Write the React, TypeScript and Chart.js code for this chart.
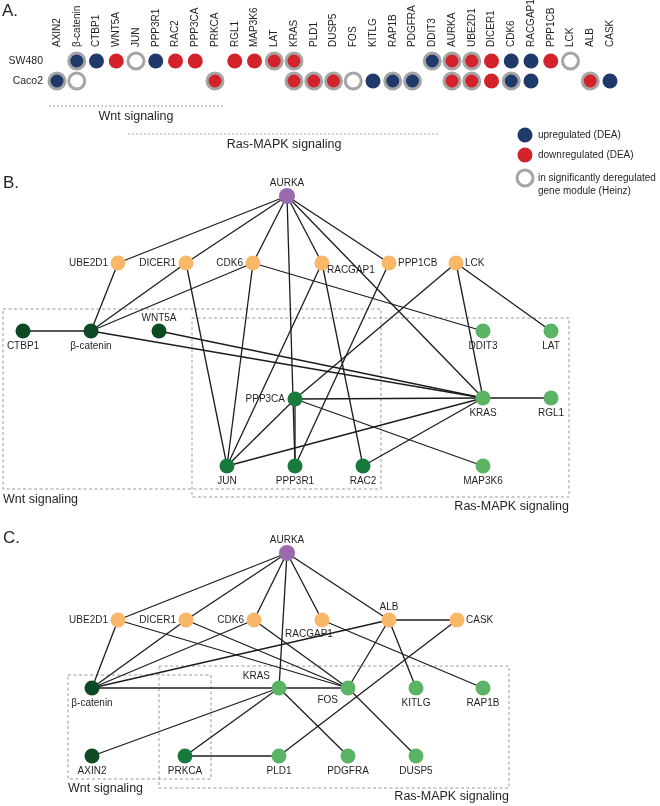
import React, { useEffect, useRef } from "react";
import { Chart, registerables } from "chart.js";
Chart.register(...registerables);

const FONT = '"Liberation Sans", Arial, Helvetica, sans-serif';
const TXT = "#231f20";

// ---------- Panel A data ----------
const genes = ["AXIN2", "β-catenin", "CTBP1", "WNT5A", "JUN", "PPP3R1", "RAC2", "PPP3CA", "PRKCA", "RGL1", "MAP3K6", "LAT", "KRAS", "PLD1", "DUSP5", "FOS", "KITLG", "RAP1B", "PDGFRA", "DDIT3", "AURKA", "UBE2D1", "DICER1", "CDK6", "RACGAP1", "PPP1CB", "LCK", "ALB", "CASK"];
const cellLines = ["SW480", "Caco2"];
const sw480Dea = ["", "up", "up", "down", "", "up", "down", "down", "", "down", "down", "down", "down", "", "", "", "", "", "", "up", "down", "down", "down", "up", "up", "down", "", "", ""];
const sw480Module = [0, 1, 0, 0, 1, 0, 0, 0, 0, 0, 0, 1, 1, 0, 0, 0, 0, 0, 0, 1, 1, 1, 0, 0, 0, 0, 1, 0, 0];
const caco2Dea = ["up", "", "", "", "", "", "", "", "down", "", "", "", "down", "down", "down", "", "up", "up", "up", "", "down", "down", "down", "up", "up", "", "", "down", "up"];
const caco2Module = [1, 1, 0, 0, 0, 0, 0, 0, 1, 0, 0, 0, 1, 1, 1, 1, 0, 1, 1, 0, 1, 1, 0, 1, 0, 0, 0, 1, 0];
const pathwayNames = ["Wnt signaling", "Ras-MAPK signaling"];
const pathwayFirst = ["AXIN2", "JUN"];
const pathwayLast = ["PRKCA", "DDIT3"];
const legendLabels = ["upregulated (DEA)", "downregulated (DEA)", "in significantly deregulated|gene module (Heinz)"];
const legendKinds = ["up", "down", "module"];

// ---------- Panel B network ----------
const bNodes = ["AURKA", "UBE2D1", "DICER1", "CDK6", "RACGAP1", "PPP1CB", "LCK", "CTBP1", "β-catenin", "WNT5A", "DDIT3", "LAT", "PPP3CA", "KRAS", "RGL1", "JUN", "PPP3R1", "RAC2", "MAP3K6"];
const bX = [287, 118, 186, 253, 322, 389, 456, 23, 91, 159, 483, 551, 295, 483, 551, 227, 295, 363, 483];
const bY = [196, 263, 263, 263, 263, 263, 263, 331, 331, 331, 331, 331, 399, 398, 398, 466, 466, 466, 466];
const bGroup = ["hub", "mod", "mod", "mod", "mod", "mod", "mod", "wnt", "wnt", "wnt", "ras", "ras", "both", "ras", "ras", "both", "both", "both", "ras"];
const bLabelPos = ["a", "l", "l", "l", "rb", "r", "r", "b", "b", "a", "b", "b", "l", "b", "b", "b", "b", "b", "b"];
const bEdges: [string, string][] = [
  ["AURKA", "UBE2D1"], ["AURKA", "DICER1"], ["AURKA", "CDK6"], ["AURKA", "RACGAP1"], ["AURKA", "PPP1CB"], ["AURKA", "PPP3R1"], ["AURKA", "KRAS"],
  ["UBE2D1", "β-catenin"], ["DICER1", "β-catenin"], ["CDK6", "β-catenin"], ["DICER1", "JUN"], ["CDK6", "JUN"], ["CDK6", "DDIT3"],
  ["RACGAP1", "JUN"], ["RACGAP1", "RAC2"], ["PPP1CB", "PPP3R1"], ["LCK", "PPP3CA"], ["LCK", "KRAS"], ["LCK", "LAT"],
  ["CTBP1", "β-catenin"], ["β-catenin", "KRAS"], ["WNT5A", "KRAS"], ["PPP3CA", "KRAS"], ["PPP3CA", "PPP3R1"], ["PPP3CA", "MAP3K6"],
  ["PPP3CA", "JUN"], ["JUN", "KRAS"], ["RAC2", "KRAS"], ["KRAS", "RGL1"],
];
const bBoxes = [[3, 309, 381, 489], [192, 318, 569, 497]];

// ---------- Panel C network ----------
const cNodes = ["AURKA", "UBE2D1", "DICER1", "CDK6", "RACGAP1", "ALB", "CASK", "β-catenin", "KRAS", "FOS", "KITLG", "RAP1B", "AXIN2", "PRKCA", "PLD1", "PDGFRA", "DUSP5"];
const cX = [287, 118, 186, 254, 322, 389, 457, 92, 279, 348, 416, 483, 92, 185, 279, 348, 416];
const cY = [553, 620, 620, 620, 620, 620, 620, 688, 688, 688, 688, 688, 756, 756, 756, 756, 756];
const cGroup = ["hub", "mod", "mod", "mod", "mod", "mod", "mod", "wnt", "ras", "ras", "ras", "ras", "wnt", "both", "ras", "ras", "ras"];
const cLabelPos = ["a", "l", "l", "l", "bl", "a", "r", "b", "al", "bl2", "b", "b", "b", "b", "b", "b", "b"];
const cEdges: [string, string][] = [
  ["AURKA", "UBE2D1"], ["AURKA", "DICER1"], ["AURKA", "CDK6"], ["AURKA", "RACGAP1"], ["AURKA", "ALB"], ["AURKA", "KRAS"],
  ["UBE2D1", "β-catenin"], ["DICER1", "β-catenin"], ["CDK6", "β-catenin"], ["ALB", "β-catenin"],
  ["UBE2D1", "FOS"], ["DICER1", "FOS"], ["CDK6", "FOS"], ["RACGAP1", "RAP1B"],
  ["ALB", "CASK"], ["ALB", "FOS"], ["ALB", "KITLG"], ["CASK", "PLD1"],
  ["β-catenin", "KRAS"], ["KRAS", "FOS"], ["KRAS", "AXIN2"], ["KRAS", "PRKCA"], ["KRAS", "PDGFRA"],
  ["FOS", "DUSP5"], ["PRKCA", "PLD1"],
];
const cBoxes = [[68, 675, 211, 779], [159, 666, 509, 788]];

// ---------- styles ----------
const GROUP_COLORS: Record<string, string> = {
  hub: "#9b6aae",
  mod: "#f9b867",
  wnt: "#0c4a24",
  both: "#187b3b",
  ras: "#5bb366",
};
const DEA_COLORS: Record<string, string> = { up: "#1f396b", down: "#d3222a", "": "#ffffff" };
const RING = "#a5a5a5";
const LABEL_OFF: Record<string, [number, number, CanvasTextAlign]> = {
  a: [0, -13, "center"],
  b: [0, 15, "center"],
  l: [-10, 0, "right"],
  r: [9, 0, "left"],
  rb: [5, 7, "left"],
  bl: [-13, 14, "center"],
  al: [-9, -12, "right"],
  bl2: [-10, 12, "right"],
};

const COL_PX = 19.75;
const COL0_PX = 57;
const ROW_PX = 20;
const ROW0_PX = 61;

export default function App() {
  const ref = useRef<HTMLCanvasElement>(null);

  useEffect(() => {
    document.body.style.margin = "0";
    const canvas = ref.current!;
    const datasets: any[] = [];

    // network edges + nodes
    const addNetwork = (names: string[], xs: number[], ys: number[], groups: string[], edges: [string, string][]) => {
      edges.forEach(([a, b]) => {
        const i = names.indexOf(a);
        const j = names.indexOf(b);
        datasets.push({
          data: [{ x: xs[i], y: ys[i] }, { x: xs[j], y: ys[j] }],
          showLine: true,
          borderColor: "#1c1c1c",
          borderWidth: 1.3,
          pointRadius: 0,
          xAxisID: "x",
          yAxisID: "y",
          order: 3,
          clip: false,
        });
      });
      datasets.push({
        data: names.map((_, i) => ({ x: xs[i], y: ys[i] })),
        pointRadius: groups.map((g) => (g === "hub" ? 8 : 7.5)),
        pointBackgroundColor: groups.map((g) => GROUP_COLORS[g]),
        pointBorderWidth: 0,
        pointBorderColor: "rgba(0,0,0,0)",
        xAxisID: "x",
        yAxisID: "y",
        order: 0,
        clip: false,
      });
    };
    addNetwork(bNodes, bX, bY, bGroup, bEdges);
    addNetwork(cNodes, cX, cY, cGroup, cEdges);

    // dashed pathway boxes
    [...bBoxes, ...cBoxes].forEach(([x0, y0, x1, y1]) => {
      datasets.push({
        data: [{ x: x0, y: y0 }, { x: x1, y: y0 }, { x: x1, y: y1 }, { x: x0, y: y1 }, { x: x0, y: y0 }],
        showLine: true,
        borderColor: "#9a9a9a",
        borderWidth: 1,
        borderDash: [3, 2.5],
        pointRadius: 0,
        xAxisID: "x",
        yAxisID: "y",
        order: 4,
        clip: false,
      });
    });

    // Panel A matrix
    const rows = [
      { dea: sw480Dea, mod: sw480Module },
      { dea: caco2Dea, mod: caco2Module },
    ];
    const aPts: any[] = [];
    const aBg: string[] = [];
    const aBorder: string[] = [];
    const aBw: number[] = [];
    const aR: number[] = [];
    rows.forEach((row, r) => {
      genes.forEach((_, i) => {
        const d = row.dea[i];
        const m = row.mod[i];
        if (!d && !m) return;
        aPts.push({ x: i, y: r });
        aBg.push(DEA_COLORS[d]);
        aBorder.push(m ? RING : "rgba(0,0,0,0)");
        aBw.push(m ? 3 : 0);
        aR.push(m ? 8 : 7.5);
      });
    });
    datasets.push({
      data: aPts,
      pointRadius: aR,
      pointBackgroundColor: aBg,
      pointBorderColor: aBorder,
      pointBorderWidth: aBw,
      xAxisID: "xa",
      yAxisID: "ya",
      order: 0,
      clip: false,
    });

    // pathway spans in A (x in gene index, y in px scale)
    const spanY = [106, 134];
    pathwayNames.forEach((_, k) => {
      const a = genes.indexOf(pathwayFirst[k]);
      const b = genes.indexOf(pathwayLast[k]);
      datasets.push({
        data: [{ x: a - 0.4, y: spanY[k] }, { x: b + 0.4, y: spanY[k] }],
        showLine: true,
        borderColor: "#9a9a9a",
        borderWidth: 1,
        borderDash: [2, 2],
        pointRadius: 0,
        xAxisID: "xa",
        yAxisID: "y",
        order: 4,
        clip: false,
      });
    });

    // legend markers
    const legY = [135, 155, 178];
    datasets.push({
      data: legendKinds.map((_, i) => ({ x: 525, y: legY[i] })),
      pointRadius: legendKinds.map((k) => (k === "module" ? 8 : 7.5)),
      pointBackgroundColor: legendKinds.map((k) => (k === "module" ? "#ffffff" : DEA_COLORS[k])),
      pointBorderColor: legendKinds.map((k) => (k === "module" ? RING : "rgba(0,0,0,0)")),
      pointBorderWidth: legendKinds.map((k) => (k === "module" ? 3 : 0)),
      xAxisID: "x",
      yAxisID: "y",
      order: 0,
      clip: false,
    });

    const textPlugin = {
      id: "texts",
      afterDatasetsDraw(chart: any) {
        const ctx: CanvasRenderingContext2D = chart.ctx;
        const sx = chart.scales.x;
        const sy = chart.scales.y;
        const xa = chart.scales.xa;
        const ya = chart.scales.ya;
        const put = (s: string, x: number, y: number, size: number, align: CanvasTextAlign = "left") => {
          ctx.font = `${size}px ${FONT}`;
          ctx.textAlign = align;
          ctx.textBaseline = "middle";
          ctx.fillStyle = TXT;
          ctx.fillText(s, x, y);
        };
        ctx.save();
        // panel letters
        put("A.", 2, 11, 17);
        put("B.", 3, 183, 17);
        put("C.", 3, 538, 17);

        // gene labels rotated
        genes.forEach((g, i) => {
          ctx.save();
          ctx.translate(xa.getPixelForValue(i), 47);
          ctx.rotate(-Math.PI / 2);
          put(g, 0, 0, 10, "left");
          ctx.restore();
        });
        cellLines.forEach((c, r) => put(c, 43, ya.getPixelForValue(r), 10.5, "right"));

        // pathway labels in A
        const aTextY = [117, 145];
        pathwayNames.forEach((p, k) => {
          const a = genes.indexOf(pathwayFirst[k]);
          const b = genes.indexOf(pathwayLast[k]);
          put(p, xa.getPixelForValue((a + b) / 2), aTextY[k], 12.5, "center");
        });

        // legend text
        legendLabels.forEach((l, i) => {
          const parts = l.split("|");
          parts.forEach((p, j) => put(p, 538, sy.getPixelForValue(legY[i]) + j * 13, 10, "left"));
        });

        // network labels
        const labelNet = (names: string[], xs: number[], ys: number[], pos: string[]) => {
          names.forEach((n, i) => {
            const [dx, dy, al] = LABEL_OFF[pos[i]];
            put(n, sx.getPixelForValue(xs[i]) + dx, sy.getPixelForValue(ys[i]) + dy, 10, al);
          });
        };
        labelNet(bNodes, bX, bY, bLabelPos);
        labelNet(cNodes, cX, cY, cLabelPos);

        // pathway labels for networks
        put(pathwayNames[0], sx.getPixelForValue(bBoxes[0][0]), 500, 12.5, "left");
        put(pathwayNames[1], sx.getPixelForValue(bBoxes[1][2]), 507, 12.5, "right");
        put(pathwayNames[0], sx.getPixelForValue(cBoxes[0][0]), 789, 12.5, "left");
        put(pathwayNames[1], sx.getPixelForValue(cBoxes[1][2]), 797, 12.5, "right");
        ctx.restore();
      },
    };

    const chart = new Chart(canvas, {
      type: "scatter",
      data: { datasets },
      options: {
        animation: false,
        responsive: false,
        maintainAspectRatio: false,
        events: [],
        layout: { padding: 0, autoPadding: false },
        plugins: { legend: { display: false }, tooltip: { enabled: false } },
        scales: {
          x: { type: "linear", min: 0, max: 660, display: false, bounds: "data" },
          y: { type: "linear", min: 0, max: 806, reverse: true, display: false, bounds: "data" },
          xa: {
            type: "linear", axis: "x", display: false, bounds: "data",
            min: -COL0_PX / COL_PX, max: (660 - COL0_PX) / COL_PX,
          },
          ya: {
            type: "linear", axis: "y", reverse: true, display: false, bounds: "data",
            min: -ROW0_PX / ROW_PX, max: (806 - ROW0_PX) / ROW_PX,
          },
        },
      } as any,
      plugins: [textPlugin],
    });
    return () => chart.destroy();
  }, []);

  return (
    <canvas
      ref={ref}
      width={660}
      height={806}
      style={{ display: "block", width: 660, height: 806 }}
    />
  );
}
